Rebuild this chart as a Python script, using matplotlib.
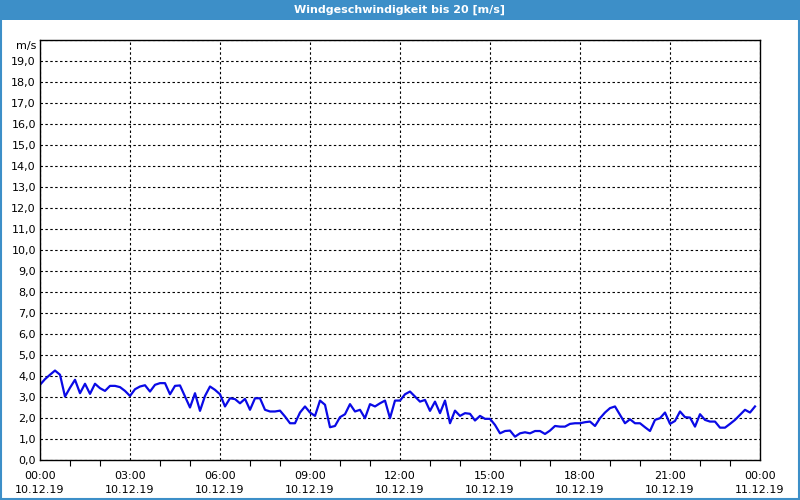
import numpy as np
import pandas as pd
import matplotlib
matplotlib.use("Agg")
import matplotlib.pyplot as plt
import matplotlib.dates as mdates
from matplotlib.patches import Rectangle
from matplotlib.ticker import FuncFormatter, MultipleLocator

# wind speed in m/s, one value every 10 minutes from 10.12.19 00:00
wind_speed = [
    3.58, 3.85, 4.06, 4.26, 4.06, 3.02, 3.44, 3.82, 3.18, 3.63, 3.15, 3.63,
    3.42, 3.29, 3.53, 3.53, 3.47, 3.29, 3.05, 3.37, 3.50, 3.56, 3.26, 3.58,
    3.66, 3.66, 3.13, 3.53, 3.55, 3.02, 2.50, 3.18, 2.34, 3.05, 3.50, 3.34,
    3.13, 2.55, 2.94, 2.90, 2.70, 2.91, 2.39, 2.94, 2.94, 2.39, 2.31, 2.31,
    2.35, 2.07, 1.75, 1.75, 2.26, 2.55, 2.26, 2.10, 2.83, 2.63, 1.56, 1.62,
    2.04, 2.18, 2.66, 2.31, 2.39, 1.99, 2.66, 2.55, 2.70, 2.83, 1.99, 2.83,
    2.83, 3.13, 3.26, 3.02, 2.78, 2.86, 2.34, 2.78, 2.23, 2.83, 1.75, 2.35,
    2.10, 2.23, 2.20, 1.88, 2.10, 1.96, 1.96, 1.67, 1.27, 1.38, 1.40, 1.11,
    1.27, 1.32, 1.27, 1.38, 1.38, 1.24, 1.40, 1.62, 1.59, 1.59, 1.72, 1.75,
    1.75, 1.80, 1.83, 1.62, 1.99, 2.26, 2.47, 2.55, 2.15, 1.75, 1.94, 1.75,
    1.75, 1.56, 1.38, 1.91, 1.99, 2.26, 1.72, 1.86, 2.31, 2.04, 2.02, 1.59,
    2.18, 1.91, 1.83, 1.83, 1.54, 1.54, 1.72, 1.91, 2.15, 2.39, 2.26, 2.55,
]
start_time = "2019-12-10 00:00"
end_time = "2019-12-11 00:00"
title = "Windgeschwindigkeit bis 20 [m/s]"
unit = "m/s"

times = pd.date_range(start_time, periods=len(wind_speed), freq="10min")

fig = plt.figure(figsize=(8, 5), dpi=100)
fig.patch.set_facecolor("white")

# blue title bar and window border
fig.patches.append(Rectangle((0, 0.96), 1, 0.04, transform=fig.transFigure,
                             facecolor="#3d8fc8", edgecolor="none", zorder=0))
fig.patches.append(Rectangle((0.001, 0.002), 0.998, 0.996, transform=fig.transFigure,
                             facecolor="none", edgecolor="#3d8fc8", linewidth=1.5, zorder=5))
fig.text(0.5, 0.98, title, color="white", fontsize=8, fontweight="bold",
         ha="center", va="center")

ax = fig.add_axes([0.05, 0.08, 0.90, 0.84])
ax.plot(times, wind_speed, color="#0a0ae6", linewidth=1.6)

ax.set_xlim(pd.Timestamp(start_time), pd.Timestamp(end_time))
ax.set_ylim(0, 20)

ax.yaxis.set_major_locator(MultipleLocator(1))
ax.yaxis.set_major_formatter(FuncFormatter(
    lambda v, p: "" if v >= 20 else f"{v:.1f}".replace(".", ",")))
ax.tick_params(axis="y", length=0, pad=3, labelsize=8)

ax.xaxis.set_major_locator(mdates.HourLocator(byhour=range(0, 24, 3)))
ax.xaxis.set_minor_locator(mdates.HourLocator())
ax.xaxis.set_major_formatter(mdates.DateFormatter("%H:%M\n%d.%m.%y"))
ax.tick_params(axis="x", which="major", length=0, pad=8, labelsize=8)
ax.tick_params(axis="x", which="minor", length=4, width=0.8, direction="out")
for lbl in ax.get_xticklabels():
    lbl.set_linespacing(1.5)

ax.grid(True, which="major", color="black", linestyle=(0, (2.2, 2.2)), linewidth=0.8)
for s in ax.spines.values():
    s.set_color("black")
    s.set_linewidth(1)

fig.text(0.046, 0.908, unit, fontsize=8, ha="right", va="center")

fig.savefig("out.png", dpi=100, facecolor=fig.get_facecolor())
